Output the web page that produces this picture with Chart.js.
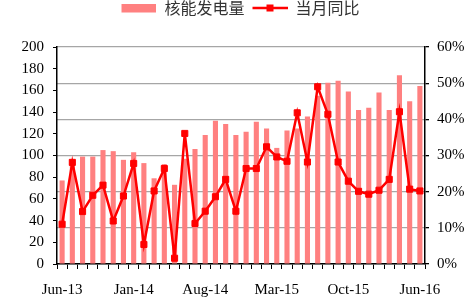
<!DOCTYPE html>
<html>
<head>
<meta charset="utf-8">
<script src="https://cdn.jsdelivr.net/npm/chart.js@4"></script>
<style>
  html, body { margin: 0; padding: 0; background: #fff; }
  #wrap { width: 473px; height: 299px; }
</style>
</head>
<body>
<div id="wrap"><canvas id="chart" width="473" height="299"></canvas></div>
<script>
const months = [
    "Jun-13", "Jul-13", "Aug-13", "Sep-13", "Oct-13", "Nov-13", "Dec-13",
    "Jan-14", "Feb-14", "Mar-14", "Apr-14", "May-14", "Jun-14", "Jul-14",
    "Aug-14", "Sep-14", "Oct-14", "Nov-14", "Dec-14", "Jan-15", "Feb-15",
    "Mar-15", "Apr-15", "May-15", "Jun-15", "Jul-15", "Aug-15", "Sep-15",
    "Oct-15", "Nov-15", "Dec-15", "Jan-16", "Feb-16", "Mar-16", "Apr-16", "May-16",
];
const tickLabels = ["Jun-13", "Jan-14", "Aug-14", "Mar-15", "Oct-15", "Jun-16"];

// 核能发电量 (亿千瓦时)
const output = [
    77, 96, 99, 99, 105, 104, 96, 103, 93, 79, 92, 73,
    97, 106, 119, 132, 129, 119, 122, 131, 125, 107, 123, 125,
    136, 155, 167, 169, 159, 142, 144, 158, 142, 174, 150, 164,
];
// 当月同比 (%)
const yoy = [
    11.0, 28.1, 14.5, 19.0, 21.8, 11.9, 18.8, 27.8, 5.4, 20.2, 26.4, 1.6,
    36.1, 11.2, 14.6, 18.6, 23.4, 14.6, 26.4, 26.4, 32.4, 29.6, 28.4, 41.8,
    28.2, 49.0, 41.4, 28.2, 22.9, 20.1, 19.3, 20.4, 23.4, 42.1, 20.7, 20.2,
];

const barColor = "#ff8080";
const lineColor = "#ff0000";

function legendIcon(kind) {
    const c = document.createElement("canvas");
    c.width = 43;
    c.height = 10;
    const g = c.getContext("2d");
    // leave 8px blank on the left so the legend sits a bit to the right
    if (kind === "bar") {
        g.fillStyle = barColor;
        g.fillRect(8, 1, 35, 8.5);
    } else {
        g.strokeStyle = lineColor;
        g.lineWidth = 2.5;
        g.beginPath();
        g.moveTo(8, 5);
        g.lineTo(43, 5);
        g.stroke();
        g.fillStyle = lineColor;
        g.fillRect(22, 1.5, 7, 7);
    }
    return c;
}

const tickFont = { family: "'Liberation Serif', 'Times New Roman', serif", size: 15 };

new Chart(document.getElementById("chart"), {
    data: {
        labels: months,
        datasets: [
            {
                type: "bar",
                label: "核能发电量",
                data: output,
                backgroundColor: barColor,
                categoryPercentage: 1,
                barPercentage: 0.5,
                yAxisID: "y",
                order: 1,
            },
            {
                type: "line",
                label: "当月同比",
                data: yoy,
                borderColor: lineColor,
                backgroundColor: lineColor,
                borderWidth: 2.5,
                pointStyle: "rect",
                pointRadius: 4.3,
                pointBorderWidth: 1,
                pointBackgroundColor: lineColor,
                pointBorderColor: lineColor,
                tension: 0,
                yAxisID: "y1",
                order: 0,
            },
        ],
    },
    options: {
        responsive: false,
        animation: false,
        layout: { padding: 0 },
        scales: {
            x: {
                offset: true,
                grid: {
                    offset: true,
                    drawOnChartArea: false,
                    tickLength: 5,
                    tickColor: "#000",
                },
                border: { color: "#000", width: 1.5 },
                ticks: {
                    autoSkip: false,
                    maxRotation: 0,
                    padding: 12,
                    color: "#000",
                    font: tickFont,
                    callback: (v, i) => (i % 7 === 0 ? tickLabels[i / 7] : ""),
                },
                afterFit: (s) => { s.height = 35; },
            },
            y: {
                position: "left",
                min: 0,
                max: 200,
                grid: {
                    drawOnChartArea: false,
                    tickLength: 4,
                    tickColor: "#000",
                },
                border: { color: "#000", width: 1.5 },
                ticks: { stepSize: 20, padding: 9, color: "#000", font: tickFont },
                afterFit: (s) => { s.width = 57; },
            },
            y1: {
                position: "right",
                min: 0,
                max: 60,
                grid: {
                    color: "#a6a6a6",
                    lineWidth: 1.3,
                    tickLength: 4,
                    tickColor: "#000",
                },
                border: { color: "#000", width: 1.5 },
                ticks: {
                    stepSize: 10,
                    padding: 8,
                    color: "#000",
                    font: tickFont,
                    callback: (v) => v + "%",
                },
                afterFit: (s) => { s.width = 48; },
            },
        },
        plugins: {
            legend: {
                position: "top",
                align: "center",
                labels: {
                    usePointStyle: true,
                    pointStyleWidth: 43,
                    padding: 0,
                    color: "#333",
                    font: { family: "'Noto Sans CJK SC', sans-serif", size: 16 },
                    sort: (a, b) => a.datasetIndex - b.datasetIndex,
                    generateLabels: (chart) =>
                        chart.data.datasets.map((ds, i) => ({
                            text: ds.label,
                            datasetIndex: i,
                            pointStyle: legendIcon(ds.type),
                            fillStyle: "transparent",
                            strokeStyle: "transparent",
                            lineWidth: 0,
                            fontColor: "#333",
                        })),
                },
            },
            tooltip: { enabled: false },
        },
    },
    plugins: [
        {
            id: "legendHeight",
            beforeInit(chart) {
                const fit = chart.legend.fit;
                chart.legend.fit = function () {
                    fit.bind(chart.legend)();
                    this.height = 47;
                };
            },
        },
    ],
});
</script>
</body>
</html>
